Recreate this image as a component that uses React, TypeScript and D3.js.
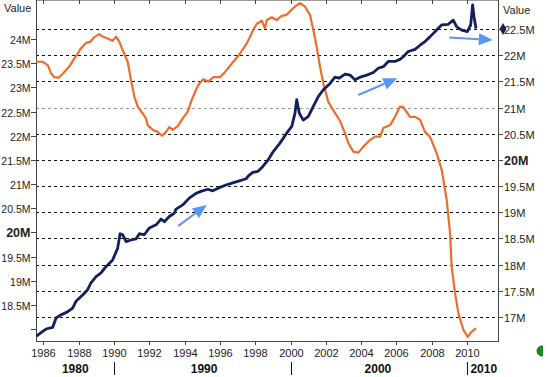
import React from 'react';
import * as d3 from 'd3';

// Orange series (left axis, millions) : [year, value]
const orangeSeries: [number, number][] = [
  [1985.58, 23.53], [1985.95, 23.53], [1986.24, 23.46], [1986.43, 23.29], [1986.61, 23.21],
  [1986.86, 23.2], [1987.09, 23.28], [1987.46, 23.43], [1987.75, 23.6], [1987.94, 23.7],
  [1988.13, 23.81], [1988.41, 23.92], [1988.64, 23.94], [1988.88, 24.04], [1989.16, 24.1],
  [1989.35, 24.05], [1989.64, 24.01], [1989.92, 23.96], [1990.11, 24.05], [1990.3, 23.94],
  [1990.49, 23.77], [1990.77, 23.53], [1990.96, 23.15], [1991.15, 22.81], [1991.34, 22.6],
  [1991.62, 22.46], [1991.81, 22.36], [1991.9, 22.22], [1992.19, 22.12], [1992.47, 22.08],
  [1992.72, 22.0], [1992.94, 22.08], [1993.13, 22.18], [1993.32, 22.12], [1993.61, 22.2],
  [1993.89, 22.36], [1994.17, 22.5], [1994.36, 22.7], [1994.64, 22.95], [1994.77, 23.05],
  [1995.06, 23.17], [1995.34, 23.12], [1995.62, 23.21], [1996.0, 23.21], [1996.29, 23.32],
  [1996.76, 23.53], [1997.14, 23.7], [1997.52, 23.91], [1997.89, 24.19], [1998.08, 24.31],
  [1998.37, 24.38], [1998.55, 24.22], [1998.65, 24.39], [1998.93, 24.45], [1999.22, 24.39],
  [1999.5, 24.48], [1999.78, 24.5], [2000.07, 24.61], [2000.35, 24.7], [2000.54, 24.74],
  [2000.82, 24.67], [2001.1, 24.5], [2001.29, 24.19], [2001.48, 23.84], [2001.67, 23.43],
  [2001.86, 23.08], [2002.14, 22.7], [2002.42, 22.53], [2002.8, 22.31], [2003.09, 22.05],
  [2003.27, 21.85], [2003.56, 21.67], [2003.84, 21.65], [2004.12, 21.77], [2004.5, 21.91],
  [2004.79, 21.98], [2005.07, 21.98], [2005.26, 22.16], [2005.64, 22.22], [2005.92, 22.39],
  [2006.2, 22.6], [2006.39, 22.59], [2006.77, 22.39], [2007.05, 22.39], [2007.34, 22.33],
  [2007.62, 22.08], [2007.9, 21.98], [2008.28, 21.64], [2008.57, 21.29], [2008.85, 20.67],
  [2009.04, 19.99], [2009.13, 19.3], [2009.32, 18.75], [2009.51, 18.33], [2009.79, 17.99],
  [2010.04, 17.84], [2010.27, 17.95], [2010.51, 18.02],
];

// Navy series (right axis, millions) : [year, value]
const navySeries: [number, number][] = [
  [1985.58, 16.63], [1985.86, 16.7], [1986.14, 16.77], [1986.52, 16.8], [1986.71, 16.98],
  [1986.99, 17.04], [1987.37, 17.1], [1987.65, 17.17], [1987.84, 17.3], [1988.22, 17.42],
  [1988.5, 17.52], [1988.69, 17.65], [1988.98, 17.77], [1989.26, 17.84], [1989.54, 17.96],
  [1989.92, 18.09], [1990.2, 18.31], [1990.34, 18.59], [1990.49, 18.57], [1990.68, 18.44],
  [1990.96, 18.47], [1991.24, 18.49], [1991.43, 18.59], [1991.71, 18.57], [1992.0, 18.7],
  [1992.38, 18.76], [1992.66, 18.87], [1992.85, 18.82], [1993.13, 18.92], [1993.41, 18.98],
  [1993.51, 19.06], [1993.89, 19.14], [1994.26, 19.27], [1994.64, 19.36], [1995.02, 19.41],
  [1995.31, 19.44], [1995.59, 19.41], [1995.96, 19.47], [1996.34, 19.52], [1996.72, 19.56],
  [1997.1, 19.6], [1997.48, 19.64], [1997.63, 19.7], [1997.86, 19.76], [1998.14, 19.78],
  [1998.42, 19.87], [1998.71, 19.99], [1999.02, 20.16], [1999.4, 20.32], [1999.78, 20.51],
  [2000.07, 20.64], [2000.25, 20.89], [2000.35, 21.15], [2000.5, 20.89], [2000.72, 20.76],
  [2001.01, 20.83], [2001.29, 21.02], [2001.57, 21.21], [2001.86, 21.34], [2002.24, 21.46],
  [2002.52, 21.58], [2002.76, 21.56], [2003.09, 21.64], [2003.37, 21.62], [2003.65, 21.53],
  [2003.94, 21.58], [2004.32, 21.62], [2004.69, 21.67], [2004.97, 21.75], [2005.26, 21.78],
  [2005.54, 21.88], [2005.92, 21.88], [2006.2, 21.92], [2006.39, 21.97], [2006.67, 22.07],
  [2007.05, 22.11], [2007.34, 22.19], [2007.62, 22.26], [2007.9, 22.35], [2008.28, 22.48],
  [2008.57, 22.58], [2008.94, 22.59], [2009.22, 22.67], [2009.42, 22.54], [2009.7, 22.48],
  [2010.02, 22.45], [2010.21, 22.58], [2010.32, 22.96], [2010.4, 22.73], [2010.51, 22.51],
];

// Annotation arrows (right-axis coordinates): [fromYear, fromValue, toYear, toValue]
const arrows: [number, number, number, number][] = [
  [1993.64, 18.74, 1995.25, 19.14],
  [2003.84, 21.24, 2006.05, 21.56],
  [2009.0, 22.34, 2011.46, 22.29],
];

const leftTicks = [18, 18.5, 19, 19.5, 20, 20.5, 21, 21.5, 22, 22.5, 23, 23.5, 24];
const leftLabels = ['', '18.5M', '19M', '19.5M', '20M', '20.5M', '21M', '21.5M', '22M', '22.5M', '23M', '23.5M', '24M'];
const rightTicks = [17, 17.5, 18, 18.5, 19, 19.5, 20, 20.5, 21, 21.5, 22, 22.5];
const rightLabels = ['17M', '17.5M', '18M', '18.5M', '19M', '19.5M', '20M', '20.5M', '21M', '21.5M', '22M', '22.5M'];
const yearTicks = [1986, 1988, 1990, 1992, 1994, 1996, 1998, 2000, 2002, 2004, 2006, 2008, 2010];
const decadeLabels = ['1980', '1990', '2000', '2010'];
const decadeCenters = [1987.8, 1995.1, 2004.95, 2010.95];
const decadeSeparators = [1990, 2000, 2010];
const lastNavyMarker = 22.5;

const W = 548;
const H = 377;
const X0 = 36;
const X1 = 498;
const Y0 = 1;
const Y1 = 341;

export default function App() {
  const x = d3.scaleLinear().domain([1985.575, 2011.757]).range([X0, X1]);
  const yL = d3.scaleLinear().domain([17.755, 24.786]).range([Y1, Y0]);
  const yR = d3.scaleLinear().domain([16.541, 23.035]).range([Y1, Y0]);

  const orangeLine = d3.line<[number, number]>().x(d => x(d[0])).y(d => yL(d[1]))(orangeSeries) || '';
  const navyLine = d3.line<[number, number]>().x(d => x(d[0])).y(d => yR(d[1]))(navySeries) || '';

  const font = '"Liberation Sans", Arial, sans-serif';
  const arrowColor = '#5b95f2';

  return (
    <svg width={W} height={H} style={{ position: 'absolute', left: 0, top: 0, background: '#fff' }} fontFamily={font}>
      <defs>
        <clipPath id="plot">
          <rect x={X0} y={Y0 - 1} width={X1 - X0} height={Y1 - Y0 + 1} />
        </clipPath>
        <clipPath id="edge">
          <rect x={0} y={0} width={543} height={H} />
        </clipPath>
      </defs>

      {/* gridlines */}
      {rightTicks.map((t, i) => (
        <line key={'g' + i} x1={X0} x2={X1} y1={Math.round(yR(t)) + 0.5} y2={Math.round(yR(t)) + 0.5}
          stroke={t === 21 ? '#9a9a9a' : '#111'} strokeWidth={1} strokeDasharray="3,3" />
      ))}

      {/* frame */}
      <line x1={X0} x2={X1} y1={Y0 - 0.5} y2={Y0 - 0.5} stroke="#9a9a9a" />
      <line x1={X0} x2={X1} y1={Y1 + 0.5} y2={Y1 + 0.5} stroke="#444" />
      <line x1={X0 + 0.5} x2={X0 + 0.5} y1={Y0 - 1} y2={Y1 + 1} stroke="#444" />
      <line x1={X1 + 0.5} x2={X1 + 0.5} y1={Y0 - 1} y2={Y1 + 1} stroke="#444" />

      {/* x ticks */}
      {yearTicks.map((t, i) => {
        const px = Math.round(x(t)) + 0.5;
        return (
          <g key={'x' + i}>
            <line x1={px} x2={px} y1={Y0 - 1} y2={Y0 + 3} stroke="#444" />
            <line x1={px} x2={px} y1={Y1} y2={Y1 + 4} stroke="#444" />
            <text x={px} y={357} fontSize={11} textAnchor="middle" fill="#222">{t}</text>
          </g>
        );
      })}

      {/* decade labels */}
      {decadeSeparators.map((t, i) => {
        const px = Math.round(x(t)) + 0.5;
        return <line key={'s' + i} x1={px} x2={px} y1={362} y2={375} stroke="#111" strokeWidth={1} />;
      })}
      {decadeLabels.map((d, i) => (
        <text key={'d' + i} x={x(decadeCenters[i])} y={373} fontSize={12} fontWeight="bold"
          textAnchor="middle" fill="#111">{d}</text>
      ))}

      {/* left axis */}
      {leftTicks.map((t, i) => {
        const py = Math.round(yL(t)) + 0.5;
        const bold = t === 20;
        return (
          <g key={'l' + i}>
            <line x1={X0 - 5} x2={X0} y1={py} y2={py} stroke="#444" />
            <text x={X0 - 5.5} y={py + 4} fontSize={bold ? 12.5 : 10.5} fontWeight={bold ? 'bold' : 'normal'}
              textAnchor="end" fill="#222">{leftLabels[i]}</text>
          </g>
        );
      })}
      <text x={4} y={12} fontSize={11} fill="#222">Value</text>

      {/* right axis */}
      {rightTicks.map((t, i) => {
        const py = Math.round(yR(t)) + 0.5;
        const bold = t === 20;
        return (
          <g key={'r' + i}>
            <line x1={X1} x2={X1 + 5} y1={py} y2={py} stroke="#444" />
            <text x={X1 + 6} y={py + 4} fontSize={bold ? 12.5 : 11} fontWeight={bold ? 'bold' : 'normal'}
              textAnchor="start" fill="#222">{rightLabels[i]}</text>
          </g>
        );
      })}
      <text x={503} y={14} fontSize={11} fill="#222">Value</text>

      {/* series */}
      <g clipPath="url(#plot)">
        <path d={orangeLine} fill="none" stroke="#ef6c2c" strokeWidth={2.2} strokeLinejoin="round" />
        <path d={navyLine} fill="none" stroke="#13205c" strokeWidth={2.8} strokeLinejoin="round" />
      </g>

      {/* arrows */}
      {arrows.map((a, i) => {
        const x1 = x(a[0]), y1 = yR(a[1]), x2 = x(a[2]), y2 = yR(a[3]);
        const ang = Math.atan2(y2 - y1, x2 - x1);
        const len = 14, half = 6;
        const bx = x2 - len * Math.cos(ang), by = y2 - len * Math.sin(ang);
        const px = -Math.sin(ang) * half, py = Math.cos(ang) * half;
        return (
          <g key={'a' + i}>
            <line x1={x1} y1={y1} x2={bx} y2={by} stroke={arrowColor} strokeWidth={2} />
            <polygon points={`${x2},${y2} ${bx + px},${by + py} ${bx - px},${by - py}`} fill={arrowColor} />
          </g>
        );
      })}

      {/* last value marker */}
      <path d={d3.symbol(d3.symbolDiamond, 40)() || ''}
        transform={`translate(${X1 + 5},${yR(lastNavyMarker)})`} fill="#13205c" />

      {/* green status dot */}
      <g clipPath="url(#edge)">
        <circle cx={542} cy={351} r={5} fill="#1c8a1c" stroke="#0e5e0e" strokeWidth={0.8} />
      </g>
    </svg>
  );
}
